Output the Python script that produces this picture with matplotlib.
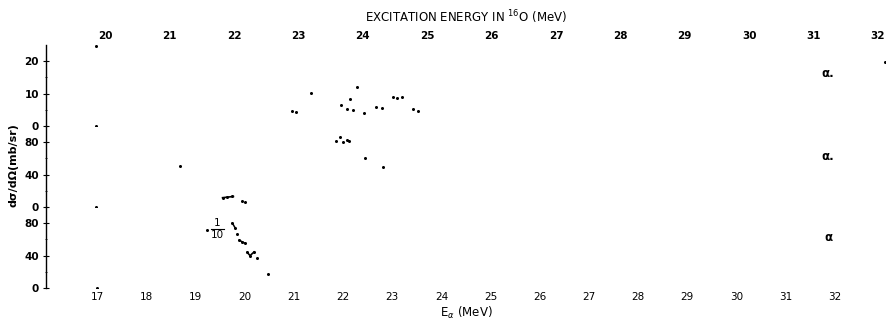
import matplotlib
matplotlib.use('Agg')
import matplotlib.pyplot as plt
import numpy as np

# E_alpha (MeV) and cross sections, one set per panel (alpha0, alpha1, alpha2)
e_top = [16.98, 16.98, 20.97, 21.05, 21.34, 21.95, 22.09, 22.15, 22.21, 22.29, 22.43,
         22.68, 22.80, 23.02, 23.09, 23.19, 23.43, 23.53, 33.02]
s_top = [24.8, 0.0, 4.6, 4.3, 10.2, 6.5, 5.2, 8.3, 4.9, 12.0, 4.0,
         5.9, 5.5, 8.9, 8.6, 8.9, 5.2, 4.6, 19.7]

e_mid = [16.98, 18.69, 19.55, 19.65, 19.75, 19.95, 20.00, 21.86, 21.94, 22.00,
         22.09, 22.13, 22.45, 22.82]
s_mid = [0.0, 50.5, 11.5, 12.0, 13.0, 7.4, 6.2, 81.2, 86.2, 80.0,
         82.5, 81.2, 60.3, 49.2]

e_bot = [17.0, 19.24, 19.75, 19.81, 19.85, 19.89, 19.95, 20.00, 20.05, 20.11, 20.19,
         20.26, 20.48]
s_bot = [0.0, 71.4, 80.0, 73.8, 66.5, 59.0, 57.0, 55.4, 44.0, 40.0, 44.5,
         37.0, 17.2]

ea_ticks = list(range(17, 33))
ex_ticks = list(range(20, 33))
channel_labels = ['\u03b1.', '\u03b1.', '\u03b1']


def ea_to_ex(e):
    return 20 + 0.7638 * (np.asarray(e) - 17.165)


def ex_to_ea(x):
    return 17.165 + (np.asarray(x) - 20) / 0.7638


fig = plt.figure(figsize=(8.87, 3.27), dpi=100)
h = 81 / 327
ax_bot = fig.add_axes([46 / 887, 39 / 327, 1 - 46 / 887, h])
ax_mid = fig.add_axes([46 / 887, 39 / 327 + h, 1 - 46 / 887, h], sharex=ax_bot)
ax_top = fig.add_axes([46 / 887, 39 / 327 + 2 * h, 1 - 46 / 887, h], sharex=ax_bot)

panels = [
    (ax_top, e_top, s_top, 25, [0, 10, 20], [5, 15], 16.3),
    (ax_mid, e_mid, s_mid, 100, [0, 40, 80], [20, 60], 62.8),
    (ax_bot, e_bot, s_bot, 100, [0, 40, 80], [20, 60], 62.8),
]

for (ax, e, s, ymax, major, minor, lab_y), lab in zip(panels, channel_labels):
    ax.plot(e, s, 'o', color='black', ms=2.2, mec='none')
    ax.set_ylim(0, ymax)
    ax.set_yticks(major)
    ax.set_yticks(minor, minor=True)
    ax.tick_params(axis='y', which='major', direction='inout', length=4, width=0.8,
                   labelsize=7.5, pad=3)
    ax.tick_params(axis='y', which='minor', direction='inout', length=2, width=0.6)
    for t in ax.get_yticklabels():
        t.set_fontweight('bold')
    ax.tick_params(axis='x', length=0, labelbottom=False)
    for side in ['top', 'right', 'bottom']:
        ax.spines[side].set_visible(False)
    ax.spines['left'].set_linewidth(1.0)
    ax.text(31.86, lab_y, lab, fontsize=8.5, fontweight='bold', ha='center', va='center')
    ax.patch.set_visible(False)

# short strokes in the alpha2 and alpha1 data
ax_mid.plot([19.55, 19.77], [11.5, 13.0], color='black', lw=1.2)
ax_bot.plot([20.05, 20.11, 20.19], [44.0, 40.0, 44.5], color='black', lw=1.2)
ax_bot.plot([19.75, 19.81], [80.0, 73.8], color='black', lw=1.1)
ax_bot.plot([19.89, 20.0], [59.0, 55.4], color='black', lw=1.1)

# 1/10 scale note
ax_bot.text(19.44, 74.5, '1', fontsize=7.5, ha='center', va='bottom')
ax_bot.plot([19.31, 19.58], [72.6, 72.6], color='black', lw=0.8)
ax_bot.text(19.44, 71.0, '10', fontsize=7.5, ha='center', va='top')

ax_bot.set_xlim(15.96, 33.06)
ax_bot.set_xticks(ea_ticks)
ax_bot.tick_params(axis='x', length=0, labelbottom=True, labelsize=7.5, pad=3)
ax_bot.set_xlabel('E$_\\alpha$ (MeV)', fontsize=8.5, labelpad=2)

sec = ax_top.secondary_xaxis('top', functions=(ea_to_ex, ex_to_ea))
sec.set_xticks(ex_ticks)
sec.tick_params(axis='x', length=0, labelsize=7.5, pad=3)
for t in sec.get_xticklabels():
    t.set_fontweight('bold')
sec.spines['top'].set_visible(False)
sec.set_xlabel('EXCITATION ENERGY IN $^{16}$O (MeV)', fontsize=8.5, labelpad=6)

fig.text(14 / 887, 1 - 165 / 327, 'd\u03c3/d\u03a9(mb/sr)', rotation=90, fontsize=8,
         fontweight='bold', ha='center', va='center')

fig.savefig('out.png', dpi=100)
